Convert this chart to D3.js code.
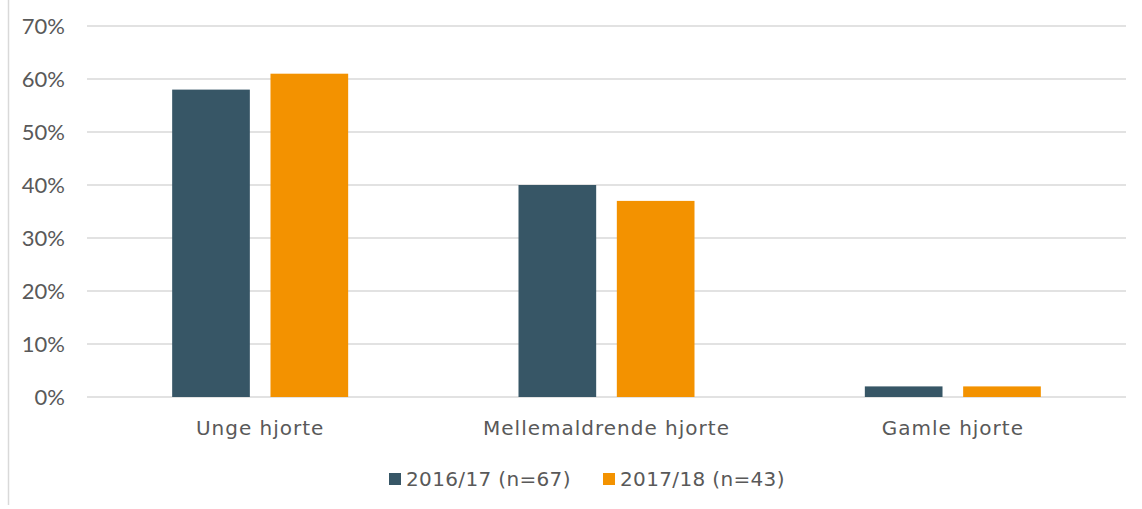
<!DOCTYPE html>
<html>
<head>
<meta charset="utf-8">
<script src="https://cdn.jsdelivr.net/npm/d3@7"></script>
<style>
  body { margin: 0; background: #fff; }
  svg { display: block; }
</style>
</head>
<body>
<div id="chart"></div>
<script>
const categories = ['Unge hjorte', 'Mellemaldrende hjorte', 'Gamle hjorte'];
const seriesNames = ['2016/17 (n=67)', '2017/18 (n=43)'];
const values2016 = [58, 40, 2];
const values2017 = [61, 37, 2];
const yTicks = [0, 10, 20, 30, 40, 50, 60, 70];
const colors = ['#375666', '#f39200'];

const W = 1142, H = 509;
const margin = {top: 26, right: 16, bottom: 112, left: 87};
const width = W - margin.left - margin.right;
const height = H - margin.top - margin.bottom;

const svg = d3.select('#chart').append('svg')
  .attr('width', W)
  .attr('height', H);

// left frame line
svg.append('line')
  .attr('x1', 8.5).attr('x2', 8.5)
  .attr('y1', 0).attr('y2', 505)
  .attr('stroke', '#d9d9d9').attr('stroke-width', 1.5);

const g = svg.append('g')
  .attr('transform', 'translate(' + margin.left + ',' + margin.top + ')');

const y = d3.scaleLinear().domain([0, 70]).range([height, 0]);
const x = d3.scaleBand().domain(categories).range([0, width]);
const x1 = d3.scaleBand().domain([0, 1]).range([0, 176]).paddingInner(0.21);

// gridlines
g.selectAll('.grid')
  .data(yTicks)
  .enter().append('line')
  .attr('x1', 0).attr('x2', width)
  .attr('y1', d => y(d)).attr('y2', d => y(d))
  .attr('stroke', '#d9d9d9').attr('stroke-width', 1.5);

// y labels
g.selectAll('.ylab')
  .data(yTicks)
  .enter().append('text')
  .attr('x', -22)
  .attr('y', d => y(d))
  .attr('dy', '0.35em')
  .attr('text-anchor', 'end')
  .attr('font-family', 'Lato, "Open Sans", sans-serif')
  .attr('font-size', 22)
  .attr('fill', '#595959')
  .text(d => d + '%');

const series = [values2016, values2017];
series.forEach((vals, s) => {
  g.selectAll('.bar' + s)
    .data(vals)
    .enter().append('rect')
    .attr('x', (d, i) => x(categories[i]) + x.bandwidth() / 2 - 88 + x1(s))
    .attr('y', d => y(d))
    .attr('width', x1.bandwidth())
    .attr('height', d => height - y(d))
    .attr('fill', colors[s]);
});

// category labels
g.selectAll('.xlab')
  .data(categories)
  .enter().append('text')
  .attr('x', d => x(d) + x.bandwidth() / 2)
  .attr('y', height + 38)
  .attr('text-anchor', 'middle')
  .attr('font-family', '"DejaVu Sans", Verdana, sans-serif')
  .attr('font-size', 20)
  .attr('letter-spacing', 1)
  .attr('fill', '#595959')
  .text(d => d);

// legend
const legend = svg.append('g');
const legendX = [389, 603];
seriesNames.forEach((name, s) => {
  legend.append('rect')
    .attr('x', legendX[s]).attr('y', 473)
    .attr('width', 12).attr('height', 12)
    .attr('fill', colors[s]);
  legend.append('text')
    .attr('x', legendX[s] + 17).attr('y', 486)
    .attr('font-family', '"DejaVu Sans", Verdana, sans-serif')
    .attr('font-size', 20)
    .attr('letter-spacing', 0.35)
    .attr('fill', '#595959')
    .text(name);
});
</script>
</body>
</html>
